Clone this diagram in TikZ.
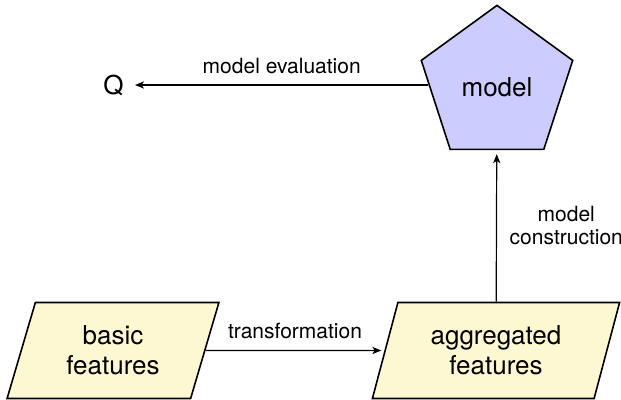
\documentclass[tikz,border=0pt]{standalone}
\usepackage{fontspec}
\setmainfont{TeX Gyre Heros}
\usetikzlibrary{shapes.geometric,arrows.meta}
\definecolor{datafill}{RGB}{253,248,210}
\definecolor{modelfill}{RGB}{204,204,255}
\begin{document}
\begin{tikzpicture}[x=0.5pt,y=-0.5pt,
  bigtext/.style={font=\fontsize{13pt}{15pt}\selectfont},
  smalltext/.style={font=\fontsize{10.5pt}{11.5pt}\selectfont},
  databox/.style={trapezium, trapezium left angle=71, trapezium right angle=109,
    trapezium stretches=true, draw, line width=0.8pt, fill=datafill,
    minimum height=48pt, inner sep=0pt, align=center, bigtext},
  modelbox/.style={regular polygon, regular polygon sides=5, draw, line width=0.8pt,
    fill=modelfill, minimum size=79.6pt, inner sep=0pt, bigtext},
  flow/.style={line width=0.6pt, -{Stealth[length=4.5pt,width=3.6pt,inset=1.2pt]}}]
\useasboundingbox (0,0) rectangle (621,400);

\node[databox, minimum width=106pt] (basic) at (113,350.5) {basic\\features};
\node[databox, minimum width=124pt] (agg) at (496,350.5) {aggregated\\features};
\node[modelbox] (model) at (497,85) {};
\node[bigtext] at (497,87) {model};
\node[bigtext, inner sep=5.5pt] (Q) at (113.5,85) {Q};

\draw[flow, shorten >=1.5pt] (basic) -- node[smalltext, above, yshift=2pt] {transformation} (agg);
\draw[flow, shorten >=2pt] (agg) -- node[smalltext, right, align=center, xshift=3pt] {model\\construction} (model);
\draw[flow] (model) -- node[smalltext, above, yshift=2pt] {model evaluation} (Q);
\end{tikzpicture}
\end{document}
